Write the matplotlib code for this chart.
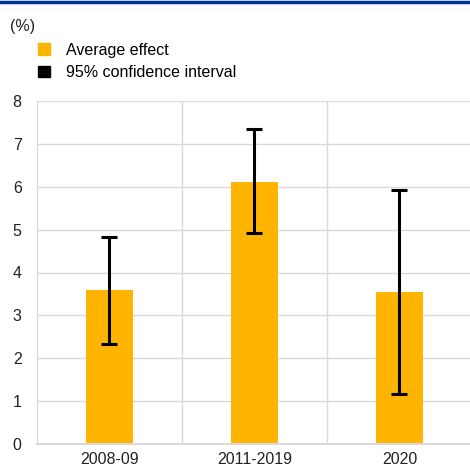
import matplotlib.pyplot as plt
from matplotlib.patches import Patch
import numpy as np

periods = ['2008-09', '2011-2019', '2020']
avg_effect = [3.59, 6.11, 3.54]
ci_low = [2.33, 4.92, 1.17]
ci_high = [4.83, 7.34, 5.92]

plt.rcParams['font.family'] = ['Liberation Sans', 'DejaVu Sans']

fig = plt.figure(figsize=(4.70, 4.69), dpi=100)
ax = fig.add_axes([37 / 470, 25 / 469, 435 / 470, 343 / 469])

x = np.arange(len(periods))
vals = np.array(avg_effect)
yerr = [vals - np.array(ci_low), np.array(ci_high) - vals]

ax.bar(x, vals, width=0.32, color='#ffb400', zorder=2)
ax.errorbar(x, vals, yerr=yerr, fmt='none', ecolor='black', elinewidth=2.2,
            capsize=6, capthick=2.2, zorder=3)

ax.set_xlim(-0.5, 2.5)
ax.set_ylim(0, 8)
ax.set_yticks(range(0, 9))
ax.set_xticks(x)
ax.set_xticklabels(periods)
ax.tick_params(axis='both', length=0, labelsize=11.5, colors='#222222')
ax.tick_params(axis='y', pad=11)
ax.tick_params(axis='x', pad=6)

for y in range(1, 9):
    ax.axhline(y, color='#d9d9d9', lw=1, zorder=1)
for xv in [0.5, 1.5]:
    ax.axvline(xv, color='#d9d9d9', lw=1, zorder=1)

for side in ['top', 'right']:
    ax.spines[side].set_visible(False)
ax.spines['left'].set_color('#d9d9d9')
ax.spines['bottom'].set_color('#d9d9d9')
ax.spines['bottom'].set_linewidth(1.5)

# top rule and unit label
fig.add_artist(plt.Line2D([0, 1], [1 - 2.5 / 469, 1 - 2.5 / 469], color='#003299', lw=2.5))
fig.text(10 / 470, 1 - 26 / 469, '(%)', fontsize=11.5, va='center', ha='left', color='#222222')

handles = [Patch(color='#ffb400', label='Average effect'),
           Patch(color='black', label='95% confidence interval')]
fig.legend(handles=handles, loc='upper left', bbox_to_anchor=(33 / 470, 1 - 38 / 469),
           frameon=False, fontsize=11.5, handlelength=0.75, handleheight=0.75,
           handletextpad=1.0, labelspacing=0.45, borderaxespad=0, borderpad=0.3)

fig.savefig('out.png', dpi=100)
